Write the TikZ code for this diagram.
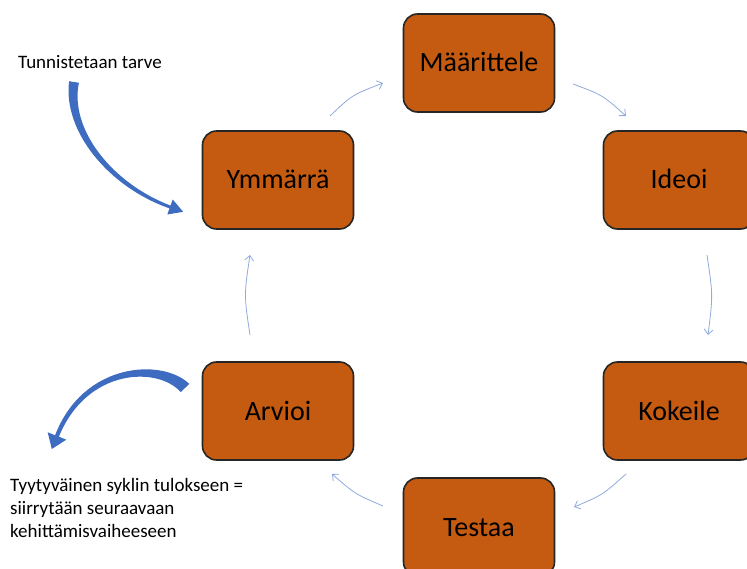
\documentclass[tikz,border=0pt]{standalone}
\usepackage{fontspec}
\setmainfont{Carlito}
\usetikzlibrary{arrows.meta}
\definecolor{boxfill}{RGB}{197,90,17}
\definecolor{boxline}{RGB}{38,38,38}
\definecolor{cyclecol}{RGB}{143,170,220}
\definecolor{blockcol}{RGB}{62,108,192}

\begin{document}
\begin{tikzpicture}[x=1pt,y=-1pt,
  stage/.style={draw=boxline, line width=1.6pt, fill=boxfill, rounded corners=14pt,
    minimum width=151pt, minimum height=98pt, inner sep=0pt,
    font=\fontsize{28}{32}\selectfont, text height=18pt, text depth=0pt},
  cyclearr/.style={draw=cyclecol, line width=0.8pt, -{Straight Barb[length=5pt,width=9pt]}},
  notetext/.style={font=\fontsize{19}{23}\selectfont, inner sep=0pt, align=left},
  bigarrow/.style={fill=blockcol, draw=none}]
\useasboundingbox (0,0) rectangle (747,569);
\clip (0,0) rectangle (747,569);

% stages of the development cycle
\node[stage] (maar) at (479,63)  {Määrittele};
\node[stage] (ideo) at (679,180) {Ideoi};
\node[stage] (koke) at (679,411) {Kokeile};
\node[stage] (test) at (479,527) {Testaa};
\node[stage] (arvi) at (278,411) {Arvioi};
\node[stage] (ymma) at (278,180) {Ymmärrä};

% end points of the thin cycle arrows
\coordinate (ymma-out) at (330,116);
\coordinate (maar-in)  at (383,83);
\coordinate (maar-out) at (573,84);
\coordinate (ideo-in)  at (626,116);
\coordinate (ideo-out) at (707,255);
\coordinate (koke-in)  at (708,335);
\coordinate (koke-out) at (626,474);
\coordinate (test-in)  at (574,507);
\coordinate (test-out) at (383,506);
\coordinate (arvi-in)  at (332,474);
\coordinate (arvi-out) at (250,335);
\coordinate (ymma-in)  at (250,255);

\draw[cyclearr] (ymma-out) .. controls (352,95)    .. (maar-in);
\draw[cyclearr] (maar-out) .. controls (602.5,95)  .. (ideo-in);
\draw[cyclearr] (ideo-out) .. controls (713,295)   .. (koke-in);
\draw[cyclearr] (koke-out) .. controls (602.5,495) .. (test-in);
\draw[cyclearr] (test-out) .. controls (355,494)   .. (arvi-in);
\draw[cyclearr] (arvi-out) .. controls (244,295)   .. (ymma-in);

% side notes
\node[notetext, anchor=base west] (need) at (18,69) {Tunnistetaan tarve};
\node[notetext, anchor=north west] (done) at (10,478.5)
  {Tyytyväinen syklin tulokseen =\\siirrytään seuraavaan\\kehittämisvaiheeseen};

% curved block arrow into the cycle
\fill[bigarrow] (69.1,81.2) .. controls (62.7,131.2) and (108.5,187) .. (169.5,208.4)
  -- (167.3,214.5) -- (183.2,211.8) -- (172.7,199.5) -- (170.5,205.6)
  .. controls (111.5,183) and (69.3,128.8) .. (78.9,82.8) -- cycle;

% curved block arrow out of the cycle
\fill[bigarrow] (189.3,383.9) .. controls (162,357.7) and (83,362.3) .. (55.1,435.3)
  -- (47.7,432.3) -- (51.8,449) -- (66.3,439.7) -- (58.9,436.7)
  .. controls (87,367.7) and (158,366.3) .. (180.7,392.1) -- cycle;
\end{tikzpicture}
\end{document}
